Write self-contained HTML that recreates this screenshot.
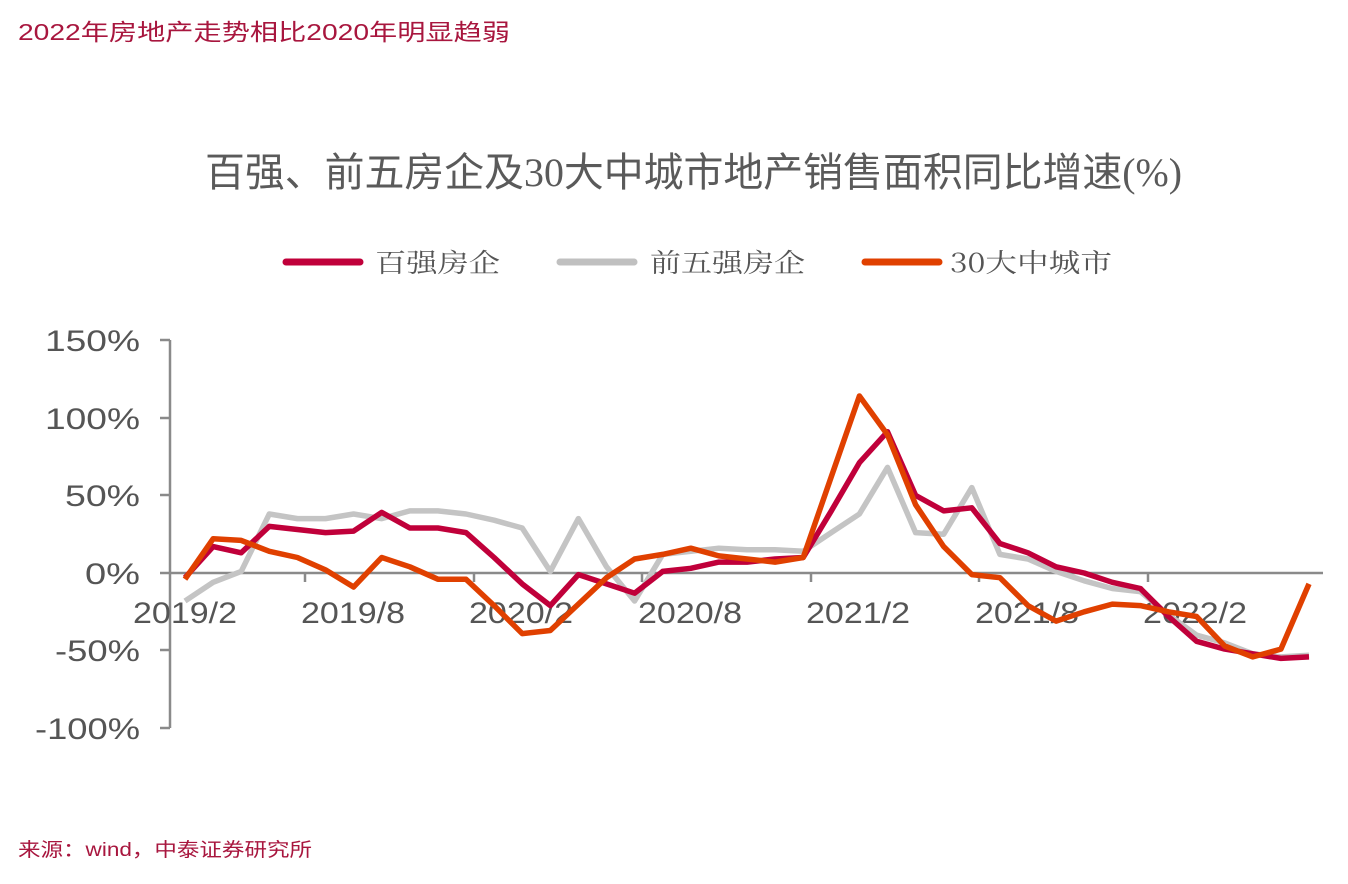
<!DOCTYPE html>
<html><head><meta charset="utf-8"><style>
html,body{margin:0;padding:0;background:#fff;}
svg{display:block;}
</style></head><body>
<svg width="1348" height="884" viewBox="0 0 1348 884" xmlns="http://www.w3.org/2000/svg">
<text x="18" y="40" font-family="Liberation Sans, Noto Sans CJK SC, sans-serif" font-size="23" fill="#a8163e" textLength="492" lengthAdjust="spacingAndGlyphs">2022年房地产走势相比2020年明显趋弱</text>
<text x="205" y="186" font-family="Liberation Serif, Noto Sans CJK SC, sans-serif" font-size="40" fill="#5a5a5a" textLength="977" lengthAdjust="spacingAndGlyphs">百强、前五房企及30大中城市地产销售面积同比增速(%)</text>
<g stroke-width="7" stroke-linecap="round">
<line x1="286" y1="262" x2="360" y2="262" stroke="#c0003a"/>
<line x1="560" y1="262" x2="634" y2="262" stroke="#c0c0c0"/>
<line x1="865" y1="262" x2="939" y2="262" stroke="#e04000"/>
</g>
<g font-family="Noto Serif CJK SC, serif" font-size="26" fill="#555">
<text x="375" y="272" textLength="125" lengthAdjust="spacingAndGlyphs">百强房企</text>
<text x="650" y="272" textLength="155" lengthAdjust="spacingAndGlyphs">前五强房企</text>
<text x="950" y="272" textLength="162" lengthAdjust="spacingAndGlyphs">30大中城市</text>
</g>
<g stroke="#8a8a8a" stroke-width="2.5" fill="none">
<line x1="170" y1="340" x2="170" y2="728"/>
<line x1="160" y1="340" x2="170" y2="340"/>
<line x1="160" y1="418" x2="170" y2="418"/>
<line x1="160" y1="495" x2="170" y2="495"/>
<line x1="160" y1="573" x2="170" y2="573"/>
<line x1="160" y1="650" x2="170" y2="650"/>
<line x1="160" y1="728" x2="170" y2="728"/>
<line x1="170" y1="573" x2="1323" y2="573"/>
<line x1="305" y1="573" x2="305" y2="582"/>
<line x1="474" y1="573" x2="474" y2="582"/>
<line x1="642" y1="573" x2="642" y2="582"/>
<line x1="811" y1="573" x2="811" y2="582"/>
<line x1="979" y1="573" x2="979" y2="582"/>
<line x1="1148" y1="573" x2="1148" y2="582"/>
</g>
<g font-family="Liberation Sans, sans-serif" font-size="30" fill="#555" text-anchor="end">
<text x="140" y="351" textLength="95" lengthAdjust="spacingAndGlyphs">150%</text>
<text x="140" y="429" textLength="95" lengthAdjust="spacingAndGlyphs">100%</text>
<text x="140" y="506" textLength="75" lengthAdjust="spacingAndGlyphs">50%</text>
<text x="140" y="584" textLength="55" lengthAdjust="spacingAndGlyphs">0%</text>
<text x="140" y="661" textLength="85" lengthAdjust="spacingAndGlyphs">-50%</text>
<text x="140" y="739" textLength="105" lengthAdjust="spacingAndGlyphs">-100%</text>
</g>
<g font-family="Liberation Sans, sans-serif" font-size="30" fill="#555">
<text x="133" y="623" textLength="104" lengthAdjust="spacingAndGlyphs">2019/2</text>
<text x="301" y="623" textLength="104" lengthAdjust="spacingAndGlyphs">2019/8</text>
<text x="469" y="623" textLength="104" lengthAdjust="spacingAndGlyphs">2020/2</text>
<text x="638" y="623" textLength="104" lengthAdjust="spacingAndGlyphs">2020/8</text>
<text x="806" y="623" textLength="104" lengthAdjust="spacingAndGlyphs">2021/2</text>
<text x="975" y="623" textLength="104" lengthAdjust="spacingAndGlyphs">2021/8</text>
<text x="1143" y="623" textLength="104" lengthAdjust="spacingAndGlyphs">2022/2</text>
</g>
<g fill="none" stroke-width="5.5" stroke-linejoin="round">
<polyline id="gray" stroke="#c4c4c4"/>
<polyline id="red" stroke="#c0003a"/>
<polyline id="orange" stroke="#e04000"/>
</g>
<text x="18" y="856" font-family="Liberation Sans, Noto Sans CJK SC, sans-serif" font-size="19" fill="#a8163e" textLength="294" lengthAdjust="spacingAndGlyphs">来源：wind，中泰证券研究所</text>
</svg>
<script>
var R=[-3,17,13,30,28,26,27,39,29,29,26,10,-7,-21,-1,-7,-13,1,3,7,7,9,10,40,71,91,50,40,42,19,13,4,0,-6,-10,-28,-44,-49,-52,-55,-54];
var G=[-18,-6,1,38,35,35,38,35,40,40,38,34,29,1,35,4,-18,12,14,16,15,15,14,26,38,68,26,25,55,12,9,1,-5,-10,-12,-27,-40,-45,-52,-54,-53];
var O=[-4,22,21,14,10,2,-9,10,4,-4,-4,-21,-39,-37,-20,-3,9,12,16,11,9,7,10,62,114,89,44,17,-1,-3,-21,-31,-25,-20,-21,-25,-28,-47,-54,-49,-7];
function pts(a){return a.map(function(v,i){return (185+28.1*i).toFixed(1)+','+(573-v*1.553).toFixed(1)}).join(' ');}
document.getElementById('red').setAttribute('points',pts(R));
document.getElementById('gray').setAttribute('points',pts(G));
document.getElementById('orange').setAttribute('points',pts(O));
</script>
</body></html>
